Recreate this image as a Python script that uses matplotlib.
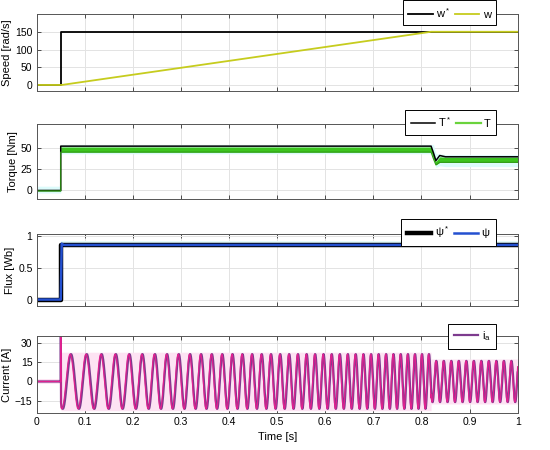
import matplotlib.pyplot as plt
import numpy as np

plt.rcParams['font.family'] = ['Liberation Sans', 'DejaVu Sans']
plt.rcParams['font.size'] = 7.5
plt.rcParams['mathtext.default'] = 'regular'

# speed [rad/s]
speed_ref_t = [0, 0.05, 0.05, 1.0]
speed_ref = [0, 0, 150, 150]
speed_t = [0, 0.052, 0.82, 1.0]
speed = [0, 0, 150, 150]

# torque [Nm]
torque_t = [0, 0.05, 0.05, 0.82, 0.825, 0.83, 0.838, 0.85, 1.0]
torque_ref = [0, 0, 52, 52, 44, 35, 41, 39.5, 39.5]
torque_hi = [0.5, 0.5, 51, 51, 43, 34, 39.5, 39, 39]
torque_lo = [-0.5, -0.5, 45, 45, 37, 30, 33, 33, 33]
halo_lo = [-3, -3, 43, 43, 35, 27, 29, 28, 28]
halo_hi = [5, 5, 54, 54, 54, 43, 43, 42, 42]

# flux [Wb]
flux_ref_t = [0, 0.05, 0.05, 1.0]
flux_ref = [0, 0, 0.86, 0.86]
flux_t = [0, 0.05, 0.052, 0.056, 1.0]
flux = [0.01, 0.01, 0.88, 0.86, 0.86]

# phase current: frequency / amplitude breakpoints
cur_t = [0.05, 0.82, 0.82, 1.0]
cur_freq = [28.5, 70, 64, 64]
cur_amp = [21.5, 21.5, 16.2, 16.2]
cur_spike = 40

t = np.linspace(0.0505, 1.0, 8000)
f = np.interp(t, cur_t[:2], cur_freq[:2])
f[t > 0.82] = cur_freq[2]
amp = np.where(t > 0.82, cur_amp[2], cur_amp[0])
phase = 2 * np.pi * np.cumsum(f) * (t[1] - t[0]) + 2 * np.pi * 0.388
ia = amp * np.cos(phase)
ia_ref = amp * np.cos(phase + 0.35)
t_full = np.concatenate([[0, 0.05, 0.0502], t])
ia_full = np.concatenate([[0, 0, cur_spike], ia])
ia_ref_full = np.concatenate([[0, 0, cur_spike], ia_ref])

xt = np.arange(0, 1.01, 0.1)
xlabels = ['0'] + ['%.1f' % v for v in xt[1:-1]] + ['1']

fig = plt.figure(figsize=(5.5, 4.5), dpi=100)
left, width = 0.0667, 0.8745
ax1 = fig.add_axes([left, 0.7978, width, 0.171])
ax2 = fig.add_axes([left, 0.5578, width, 0.1667])
ax3 = fig.add_axes([left, 0.32, width, 0.16])
ax4 = fig.add_axes([left, 0.0816, width, 0.1724])

for ax in (ax1, ax2, ax3, ax4):
    ax.set_xlim(0, 1)
    ax.set_xticks(xt)
    ax.grid(True, color='#e3e3e3', lw=0.7)
    ax.set_axisbelow(True)
    ax.tick_params(direction='in', top=True, right=True, length=3,
                   width=0.6, color='#333333', labelsize=7.5, pad=3)
    for s in ax.spines.values():
        s.set_color('#555555')
        s.set_linewidth(0.7)
    if ax is not ax4:
        ax.set_xticklabels([])

# speed
ax1.plot(speed_ref_t, speed_ref, color='black', lw=1.3, label='w$^*$')
ax1.plot(speed_t, speed, color='#c6cc1e', lw=1.3, label='w')
ax1.set_ylim(-17, 200)
ax1.set_yticks([0, 50, 100, 150])
ax1.set_ylabel('Speed [rad/s]', fontsize=8, labelpad=2)

# torque
ax2.fill_between(torque_t, halo_lo, halo_hi, color='#dcfbfb', lw=0)
ax2.fill_between(torque_t, torque_lo, torque_hi, color='#3cc41e', lw=0)
ax2.plot(torque_t, torque_ref, color='black', lw=1.1, label='T$^*$')
ax2.plot(torque_t, torque_lo, color='#2f9a14', lw=0.8)
ax2.plot([], [], color='#6ad33c', lw=1.6, label='T')
ax2.set_ylim(-10, 78)
ax2.set_yticks([0, 25, 50])
ax2.set_ylabel('Torque [Nm]', fontsize=8, labelpad=2)

# flux
ax3.fill_between([0.05, 1.0], [0.86, 0.86], [0.92, 0.92], color='#e4fbfb', lw=0)
ax3.plot(flux_ref_t, flux_ref, color='black', lw=3.2, label='$\\psi^*$')
ax3.plot(flux_t, flux, color='#2450d0', lw=1.8, label='$\\psi$')
ax3.set_ylim(-0.09, 1.03)
ax3.set_yticks([0, 0.5, 1])
ax3.set_yticklabels(['0', '0.5', '1'])
ax3.set_ylabel('Flux [Wb]', fontsize=8, labelpad=2)

# current
ax4.fill_between([0, 0.05], [-2, -2], [2, 2], color='#fde3f3', lw=0)
ax4.fill_between(t, -amp - 1.5, amp + 1.5, color='#fde3f3', lw=0)
ax4.plot(t_full, ia_full, color='#7d3b8e', lw=1.6, label='i$_a$')
ax4.plot(t_full, ia_ref_full, color='#e0208f', lw=0.9)
ax4.set_ylim(-25, 36)
ax4.set_yticks([-15, 0, 15, 30])
ax4.set_ylabel('Current [A]', fontsize=8, labelpad=2)
ax4.set_xticklabels(xlabels)
ax4.set_xlabel('Time [s]', fontsize=8, labelpad=3)

leg_kw = dict(loc='upper right', fontsize=8, frameon=True, fancybox=False,
              framealpha=1, edgecolor='black', handlelength=2.2,
              borderpad=0.5, handletextpad=0.3, columnspacing=0.4)
for ax, y in ((ax1, 1.25), (ax2, 1.26), (ax3, 1.285), (ax4, 1.225)):
    h, l = ax.get_legend_handles_labels()
    lg = ax.legend(h, l, ncol=len(h), bbox_to_anchor=(0.967, y), **leg_kw)
    lg.get_frame().set_linewidth(0.7)

fig.savefig('out.png', dpi=100)
